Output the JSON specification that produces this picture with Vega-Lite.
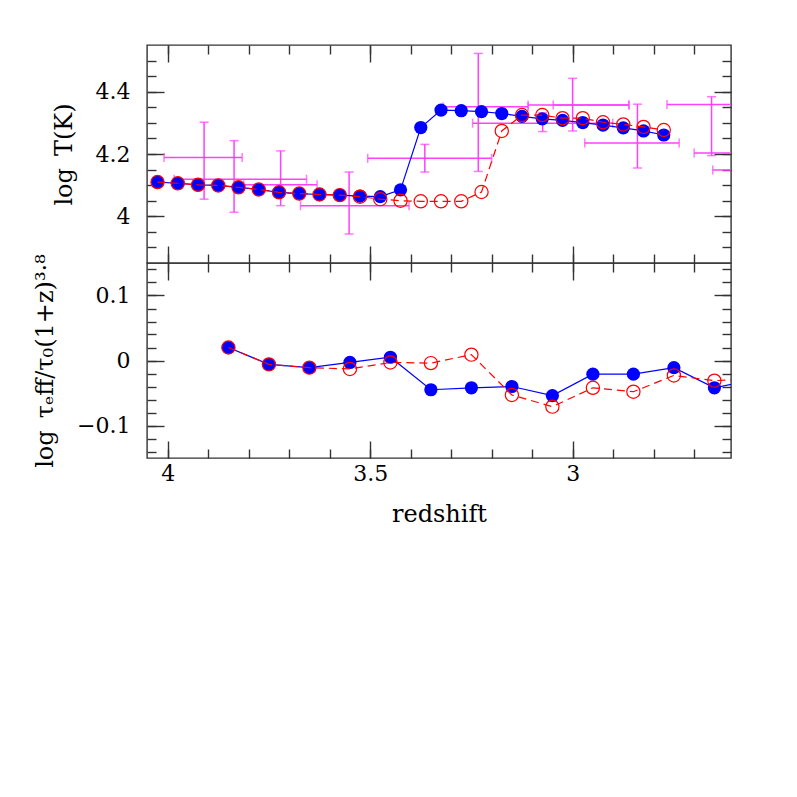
{
  "$schema": "https://vega.github.io/schema/vega-lite/v6.json",
  "padding": {"left": 32, "top": 43, "right": 5, "bottom": 5},
  "config": {
    "view": {"stroke": "#333", "strokeWidth": 1.4},
    "axis": {"domain": false, "grid": false, "labelFont": "DejaVu Serif", "titleFont": "DejaVu Serif", "labelFontSize": 22, "titleFontSize": 24, "labelColor": "black", "titleColor": "black", "titleFontWeight": "normal", "tickColor": "#333", "tickWidth": 1.4, "labelOverlap": false, "labelFlush": false, "labelBound": false, "format": "~g"}
  },
  "datasets": {
    "temp": [
      {"z": 4.025, "blue": 4.110, "red": 4.110},
      {"z": 3.975, "blue": 4.106, "red": 4.106},
      {"z": 3.925, "blue": 4.101, "red": 4.101},
      {"z": 3.875, "blue": 4.099, "red": 4.099},
      {"z": 3.825, "blue": 4.093, "red": 4.093},
      {"z": 3.775, "blue": 4.086, "red": 4.086},
      {"z": 3.725, "blue": 4.077, "red": 4.077},
      {"z": 3.675, "blue": 4.073, "red": 4.073},
      {"z": 3.625, "blue": 4.070, "red": 4.070},
      {"z": 3.575, "blue": 4.068, "red": 4.068},
      {"z": 3.525, "blue": 4.065, "red": 4.063},
      {"z": 3.475, "blue": 4.063, "red": 4.055},
      {"z": 3.425, "blue": 4.085, "red": 4.050},
      {"z": 3.375, "blue": 4.285, "red": 4.048},
      {"z": 3.325, "blue": 4.341, "red": 4.048},
      {"z": 3.275, "blue": 4.339, "red": 4.048},
      {"z": 3.225, "blue": 4.336, "red": 4.078},
      {"z": 3.175, "blue": 4.330, "red": 4.274},
      {"z": 3.125, "blue": 4.321, "red": 4.325},
      {"z": 3.075, "blue": 4.313, "red": 4.325},
      {"z": 3.025, "blue": 4.308, "red": 4.315},
      {"z": 2.975, "blue": 4.301, "red": 4.315},
      {"z": 2.925, "blue": 4.293, "red": 4.302},
      {"z": 2.875, "blue": 4.284, "red": 4.295},
      {"z": 2.825, "blue": 4.274, "red": 4.287},
      {"z": 2.775, "blue": 4.261, "red": 4.277}
    ],
    "obs": [
      {"zc": 3.910, "tc": 4.189, "z1": 4.009, "z2": 3.816, "t1": 4.055, "t2": 4.302},
      {"zc": 3.836, "tc": 4.119, "z1": 3.984, "z2": 3.657, "t1": 4.013, "t2": 4.243},
      {"zc": 3.721, "tc": 4.101, "z1": 3.812, "z2": 3.631, "t1": 4.034, "t2": 4.210},
      {"zc": 3.552, "tc": 4.034, "z1": 3.672, "z2": 3.404, "t1": 3.943, "t2": 4.142},
      {"zc": 3.365, "tc": 4.186, "z1": 3.506, "z2": 3.200, "t1": 4.142, "t2": 4.231},
      {"zc": 3.233, "tc": 4.352, "z1": 3.320, "z2": 3.110, "t1": 4.144, "t2": 4.523},
      {"zc": 3.000, "tc": 4.357, "z1": 3.110, "z2": 2.861, "t1": 4.274, "t2": 4.443},
      {"zc": 2.955, "tc": 4.357, "z1": 3.048, "z2": 2.861, "t1": null, "t2": null},
      {"zc": 3.074, "tc": 4.299, "z1": 3.247, "z2": 2.901, "t1": 4.272, "t2": 4.332},
      {"zc": 2.840, "tc": 4.235, "z1": 2.970, "z2": 2.737, "t1": 4.155, "t2": 4.360},
      {"zc": 2.657, "tc": 4.359, "z1": 2.767, "z2": 2.547, "t1": 4.195, "t2": 4.384},
      {"zc": 2.590, "tc": 4.203, "z1": 2.700, "z2": 2.480, "t1": null, "t2": null},
      {"zc": 2.570, "tc": 4.149, "z1": 2.654, "z2": 2.490, "t1": null, "t2": null}
    ],
    "tau": [
      {"z": 3.85, "blue": 0.020, "red": 0.020},
      {"z": 3.75, "blue": -0.006, "red": -0.006},
      {"z": 3.65, "blue": -0.011, "red": -0.011},
      {"z": 3.55, "blue": -0.003, "red": -0.013},
      {"z": 3.45, "blue": 0.005, "red": -0.003},
      {"z": 3.35, "blue": -0.045, "red": -0.004},
      {"z": 3.25, "blue": -0.042, "red": 0.009},
      {"z": 3.15, "blue": -0.040, "red": -0.053},
      {"z": 3.05, "blue": -0.054, "red": -0.071},
      {"z": 2.95, "blue": -0.021, "red": -0.042},
      {"z": 2.85, "blue": -0.021, "red": -0.048},
      {"z": 2.75, "blue": -0.011, "red": -0.023},
      {"z": 2.65, "blue": -0.042, "red": -0.031},
      {"z": 2.55, "blue": -0.029, "red": -0.028}
    ]
  },
  "spacing": 0,
  "bounds": "flush",
  "resolve": {"scale": {"x": "independent", "y": "independent"}},
  "vconcat": [
    {
      "width": 584,
      "height": 218,
      "resolve": {"scale": {"x": "independent", "y": "independent"}},
      "layer": [
        {
          "layer": [
            {
              "data": {"name": "obs"},
              "mark": {"type": "rule", "color": "#ff40ff", "strokeWidth": 1.5, "clip": true},
              "encoding": {
                "x": {"field": "z1", "type": "quantitative", "scale": {"domain": [2.609, 4.051], "reverse": true, "nice": false, "zero": false},
                  "axis": {"orient": "bottom", "title": null, "labels": false, "values": [4, 3.5, 3], "tickSize": -17}},
                "x2": {"field": "z2"},
                "y": {"field": "tc", "type": "quantitative", "scale": {"domain": [3.85, 4.55], "nice": false, "zero": false},
                  "axis": {"orient": "left", "title": "log\u2002T(K)", "titlePadding": 19, "values": [4, 4.2, 4.4], "tickSize": -17, "labelPadding": 34}}
              }
            },
            {
              "data": {"name": "obs"},
              "transform": [{"filter": "datum.t1 != null"}],
              "mark": {"type": "rule", "color": "#ff40ff", "strokeWidth": 1.5, "clip": true},
              "encoding": {
                "x": {"field": "zc", "type": "quantitative"},
                "y": {"field": "t1", "type": "quantitative"},
                "y2": {"field": "t2"}
              }
            },
            {
              "data": {"name": "obs"},
              "mark": {"type": "tick", "orient": "vertical", "size": 9, "thickness": 1.5, "color": "#ff40ff", "clip": true},
              "encoding": {"x": {"field": "z1", "type": "quantitative"}, "y": {"field": "tc", "type": "quantitative"}}
            },
            {
              "data": {"name": "obs"},
              "mark": {"type": "tick", "orient": "vertical", "size": 9, "thickness": 1.5, "color": "#ff40ff", "clip": true},
              "encoding": {"x": {"field": "z2", "type": "quantitative"}, "y": {"field": "tc", "type": "quantitative"}}
            },
            {
              "data": {"name": "obs"},
              "transform": [{"filter": "datum.t1 != null"}],
              "mark": {"type": "tick", "orient": "horizontal", "size": 9, "thickness": 1.5, "color": "#ff40ff", "clip": true},
              "encoding": {"x": {"field": "zc", "type": "quantitative"}, "y": {"field": "t1", "type": "quantitative"}}
            },
            {
              "data": {"name": "obs"},
              "transform": [{"filter": "datum.t1 != null"}],
              "mark": {"type": "tick", "orient": "horizontal", "size": 9, "thickness": 1.5, "color": "#ff40ff", "clip": true},
              "encoding": {"x": {"field": "zc", "type": "quantitative"}, "y": {"field": "t2", "type": "quantitative"}}
            },
            {
              "mark": {"type": "rule", "color": "#5fef5f", "strokeWidth": 2, "strokeDash": [2, 3]},
              "encoding": {"y": {"datum": 4.32}}
            },
            {
              "mark": {"type": "rule", "color": "#5fef5f", "strokeWidth": 2, "strokeDash": [2, 3]},
              "encoding": {"y": {"datum": 4.05}}
            },
            {
              "data": {"name": "temp"},
              "mark": {"type": "line", "color": "#0000ff", "strokeWidth": 1.2, "clip": true},
              "encoding": {"x": {"field": "z", "type": "quantitative"}, "y": {"field": "blue", "type": "quantitative"}}
            },
            {
              "data": {"name": "temp"},
              "mark": {"type": "circle", "color": "#0000ff", "size": 175, "opacity": 1, "clip": true},
              "encoding": {"x": {"field": "z", "type": "quantitative"}, "y": {"field": "blue", "type": "quantitative"}}
            },
            {
              "data": {"name": "temp"},
              "mark": {"type": "line", "color": "#ff0000", "strokeWidth": 1.2, "strokeDash": [8, 5], "clip": true},
              "encoding": {"x": {"field": "z", "type": "quantitative"}, "y": {"field": "red", "type": "quantitative"}}
            },
            {
              "data": {"name": "temp"},
              "mark": {"type": "point", "shape": "circle", "filled": false, "color": "#ff0000", "strokeWidth": 1.2, "size": 175, "opacity": 1, "clip": true},
              "encoding": {"x": {"field": "z", "type": "quantitative"}, "y": {"field": "red", "type": "quantitative"}}
            }
          ]
        },
        {
          "data": {"name": "temp"},
          "mark": {"type": "point", "opacity": 0},
          "encoding": {
            "x": {"field": "z", "type": "quantitative", "scale": {"domain": [2.609, 4.051], "reverse": true, "nice": false, "zero": false},
              "axis": {"orient": "top", "title": null, "labels": false, "values": [4, 3.5, 3], "tickSize": -17}},
            "y": {"field": "blue", "type": "quantitative", "scale": {"domain": [3.85, 4.55], "nice": false, "zero": false},
              "axis": {"orient": "right", "title": null, "labels": false, "values": [4, 4.2, 4.4], "tickSize": -17}}
          }
        },
        {
          "data": {"name": "temp"},
          "mark": {"type": "point", "opacity": 0},
          "encoding": {
            "x": {"field": "z", "type": "quantitative", "scale": {"domain": [2.609, 4.051], "reverse": true, "nice": false, "zero": false},
              "axis": {"orient": "bottom", "title": null, "labels": false, "values": [4, 3.9, 3.8, 3.7, 3.6, 3.5, 3.4, 3.3, 3.2, 3.1, 3, 2.9, 2.8, 2.7], "tickSize": -9}},
            "y": {"field": "blue", "type": "quantitative", "scale": {"domain": [3.85, 4.55], "nice": false, "zero": false},
              "axis": {"orient": "left", "title": null, "labels": false, "values": [3.9, 3.95, 4, 4.05, 4.1, 4.15, 4.2, 4.25, 4.3, 4.35, 4.4, 4.45, 4.5], "tickSize": -9}}
          }
        },
        {
          "data": {"name": "temp"},
          "mark": {"type": "point", "opacity": 0},
          "encoding": {
            "x": {"field": "z", "type": "quantitative", "scale": {"domain": [2.609, 4.051], "reverse": true, "nice": false, "zero": false},
              "axis": {"orient": "top", "title": null, "labels": false, "values": [4, 3.9, 3.8, 3.7, 3.6, 3.5, 3.4, 3.3, 3.2, 3.1, 3, 2.9, 2.8, 2.7], "tickSize": -9}},
            "y": {"field": "blue", "type": "quantitative", "scale": {"domain": [3.85, 4.55], "nice": false, "zero": false},
              "axis": {"orient": "right", "title": null, "labels": false, "values": [3.9, 3.95, 4, 4.05, 4.1, 4.15, 4.2, 4.25, 4.3, 4.35, 4.4, 4.45, 4.5], "tickSize": -9}}
          }
        }
      ]
    },
    {
      "width": 584,
      "height": 195,
      "resolve": {"scale": {"x": "independent", "y": "independent"}},
      "layer": [
        {
          "layer": [
            {
              "mark": {"type": "rule", "color": "#0000ff", "strokeWidth": 1.2, "strokeDash": [18, 10]},
              "encoding": {"y": {"datum": 0, "type": "quantitative", "scale": {"domain": [-0.15, 0.15], "nice": false, "zero": false}}}
            },
            {
              "data": {"name": "tau"},
              "mark": {"type": "line", "color": "#0000ff", "strokeWidth": 1.2, "clip": true},
              "encoding": {
                "x": {"field": "z", "type": "quantitative", "scale": {"domain": [2.609, 4.051], "reverse": true, "nice": false, "zero": false},
                  "axis": {"orient": "bottom", "title": "redshift", "titlePadding": 18, "values": [4, 3.5, 3], "tickSize": -17, "labelPadding": 22}},
                "y": {"field": "blue", "type": "quantitative",
                  "axis": {"orient": "left", "title": "log\u2002τₑff/τ₀(1+z)³·⁸", "titlePadding": 19, "values": [-0.1, 0, 0.1], "tickSize": -17, "labelPadding": 34}}
              }
            },
            {
              "data": {"name": "tau"},
              "mark": {"type": "circle", "color": "#0000ff", "size": 175, "opacity": 1, "clip": true},
              "encoding": {"x": {"field": "z", "type": "quantitative"}, "y": {"field": "blue", "type": "quantitative"}}
            },
            {
              "data": {"name": "tau"},
              "mark": {"type": "line", "color": "#ff0000", "strokeWidth": 1.2, "strokeDash": [8, 5], "clip": true},
              "encoding": {"x": {"field": "z", "type": "quantitative"}, "y": {"field": "red", "type": "quantitative"}}
            },
            {
              "data": {"name": "tau"},
              "mark": {"type": "point", "shape": "circle", "filled": false, "color": "#ff0000", "strokeWidth": 1.2, "size": 175, "opacity": 1, "clip": true},
              "encoding": {"x": {"field": "z", "type": "quantitative"}, "y": {"field": "red", "type": "quantitative"}}
            }
          ]
        },
        {
          "data": {"name": "tau"},
          "mark": {"type": "point", "opacity": 0},
          "encoding": {
            "x": {"field": "z", "type": "quantitative", "scale": {"domain": [2.609, 4.051], "reverse": true, "nice": false, "zero": false},
              "axis": {"orient": "top", "title": null, "labels": false, "values": [4, 3.5, 3], "tickSize": -17}},
            "y": {"field": "blue", "type": "quantitative", "scale": {"domain": [-0.15, 0.15], "nice": false, "zero": false},
              "axis": {"orient": "right", "title": null, "labels": false, "values": [-0.1, 0, 0.1], "tickSize": -17}}
          }
        },
        {
          "data": {"name": "tau"},
          "mark": {"type": "point", "opacity": 0},
          "encoding": {
            "x": {"field": "z", "type": "quantitative", "scale": {"domain": [2.609, 4.051], "reverse": true, "nice": false, "zero": false},
              "axis": {"orient": "bottom", "title": null, "labels": false, "values": [4, 3.9, 3.8, 3.7, 3.6, 3.5, 3.4, 3.3, 3.2, 3.1, 3, 2.9, 2.8, 2.7], "tickSize": -9}},
            "y": {"field": "blue", "type": "quantitative", "scale": {"domain": [-0.15, 0.15], "nice": false, "zero": false},
              "axis": {"orient": "left", "title": null, "labels": false, "values": [-0.14, -0.12, -0.1, -0.08, -0.06, -0.04, -0.02, 0, 0.02, 0.04, 0.06, 0.08, 0.1, 0.12, 0.14], "tickSize": -9}}
          }
        },
        {
          "data": {"name": "tau"},
          "mark": {"type": "point", "opacity": 0},
          "encoding": {
            "x": {"field": "z", "type": "quantitative", "scale": {"domain": [2.609, 4.051], "reverse": true, "nice": false, "zero": false},
              "axis": {"orient": "top", "title": null, "labels": false, "values": [4, 3.9, 3.8, 3.7, 3.6, 3.5, 3.4, 3.3, 3.2, 3.1, 3, 2.9, 2.8, 2.7], "tickSize": -9}},
            "y": {"field": "blue", "type": "quantitative", "scale": {"domain": [-0.15, 0.15], "nice": false, "zero": false},
              "axis": {"orient": "right", "title": null, "labels": false, "values": [-0.14, -0.12, -0.1, -0.08, -0.06, -0.04, -0.02, 0, 0.02, 0.04, 0.06, 0.08, 0.1, 0.12, 0.14], "tickSize": -9}}
          }
        }
      ]
    }
  ]
}
